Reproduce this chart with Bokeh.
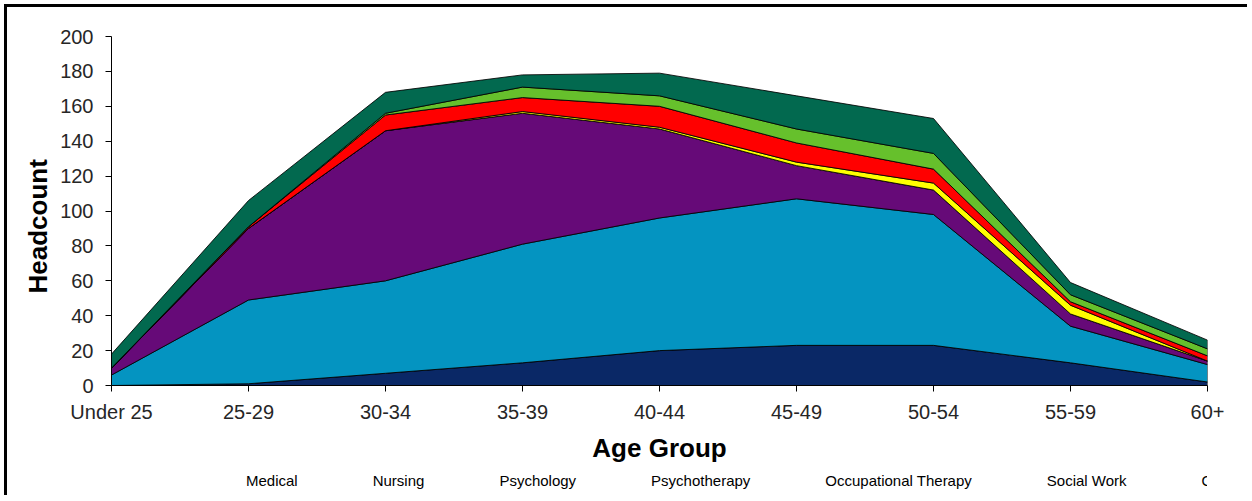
from bokeh.plotting import figure
from bokeh.layouts import column
from bokeh.models import Range1d, FixedTicker, Legend, LegendItem, Title
from bokeh.embed import file_html
from bokeh.resources import INLINE

age_groups = ["Under 25", "25-29", "30-34", "35-39", "40-44", "45-49", "50-54", "55-59", "60+"]

medical       = [0, 1, 7, 13, 20, 23, 23, 13, 2]
nursing       = [6, 48, 53, 68, 76, 84, 75, 21, 10]
psychology    = [4, 41, 86, 75, 51, 19, 14, 7, 2]
psychotherapy = [0, 0, 0, 1, 1, 2, 4, 5, 0]
occupational  = [0, 1, 9, 8, 12, 11, 8, 2, 3]
social_work   = [0, 0, 1, 6, 6, 8, 9, 4, 4]
other         = [8, 15, 12, 7, 13, 19, 20, 7, 5]

series_names = ["Medical", "Nursing", "Psychology", "Psychotherapy",
                "Occupational Therapy", "Social Work", "Other"]
series_values = [medical, nursing, psychology, psychotherapy,
                 occupational, social_work, other]
series_colors = ["#0A2866", "#0494C1", "#660A78", "#FFFF00",
                 "#FF0000", "#66C02C", "#02694F"]

FONT = "Liberation Sans"

p = figure(frame_width=1096, frame_height=349,
           output_backend="svg", toolbar_location=None,
           x_range=Range1d(0, len(age_groups) - 1), y_range=Range1d(0, 200),
           min_border_left=104, min_border_right=40, min_border_top=29,
           min_border_bottom=0)
p.outline_line_color = None
p.grid.visible = False

xs = list(range(len(age_groups)))
bottom = [0] * len(age_groups)
for name, vals, col in zip(series_names, series_values, series_colors):
    top = [b + v for b, v in zip(bottom, vals)]
    px = xs + xs[::-1]
    py = top + bottom[::-1]
    p.patch(px, py, fill_color=col, line_color="black", line_width=1, line_alpha=0.85)
    bottom = top

# axes
for ax in (p.xaxis[0], p.yaxis[0]):
    ax.axis_line_color = "black"
    ax.axis_line_width = 1
    ax.major_tick_line_color = "black"
    ax.major_tick_in = 0
    ax.major_tick_out = 6
    ax.minor_tick_line_color = None
    ax.major_label_text_font = FONT
    ax.major_label_text_font_size = "20px"
    ax.major_label_text_color = "#262626"
    ax.axis_label_text_font = FONT
    ax.axis_label_text_font_size = "26px"
    ax.axis_label_text_font_style = "bold"
    ax.axis_label_text_color = "black"

p.xaxis[0].ticker = FixedTicker(ticks=xs)
p.xaxis[0].major_label_overrides = {i: g for i, g in enumerate(age_groups)}
p.xaxis[0].major_label_standoff = 9
p.xaxis[0].axis_label = "Age Group"
p.xaxis[0].axis_label_standoff = 7

p.yaxis[0].ticker = FixedTicker(ticks=list(range(0, 201, 20)))
p.yaxis[0].major_label_standoff = 12

ytitle = Title(text="Headcount", align="left", offset=92, standoff=10,
               text_font=FONT, text_font_size="26px", text_font_style="bold",
               text_color="black")
p.add_layout(ytitle, "left")

# legend row (separate strip below the chart)
lg = figure(width=1240, height=30, output_backend="svg", toolbar_location=None,
            x_range=Range1d(0, 1), y_range=Range1d(0, 1),
            x_axis_location=None, y_axis_location=None, min_border=0)
lg.outline_line_color = None
lg.grid.visible = False
items = []
for name, col in zip(series_names, series_colors):
    r = lg.patch(x=[], y=[], fill_color=col, line_color="black", line_width=1)
    items.append(LegendItem(label=name, renderers=[r]))

legend = Legend(items=items, location=(124, 6), orientation="horizontal",
                padding=0, margin=0, spacing=64,
                border_line_alpha=0, background_fill_alpha=0,
                glyph_width=8, glyph_height=8, label_standoff=3,
                label_height=15, label_text_font=FONT, label_text_font_size="15px",
                label_text_color="black")
lg.add_layout(legend, "center")

layout = column(p, lg, spacing=0,
                styles={"border-left": "3px solid black", "border-top": "3px solid black",
                        "position": "relative", "left": "4px", "top": "4px"})

open("out.html", "w").write(file_html(layout, INLINE))
